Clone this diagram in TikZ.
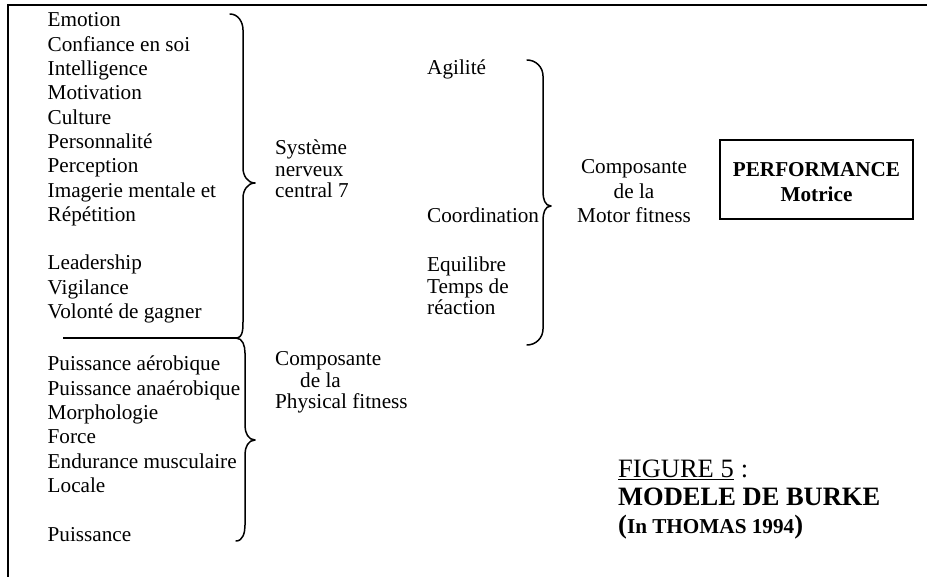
\documentclass[tikz,border=0pt]{standalone}
\usepackage{fontspec}
\setmainfont{Liberation Serif}
\begin{document}
\begin{tikzpicture}[x=1pt,y=1pt,
  txt/.style={inner sep=0pt,anchor=base west,font=\fontsize{21.2}{24.3}\selectfont},
  ctxt/.style={inner sep=0pt,anchor=base,font=\fontsize{21.2}{24.3}\selectfont},
  boldtxt/.style={inner sep=0pt,anchor=base,font=\fontsize{21.2}{24.3}\selectfont\bfseries},
  captxt/.style={inner sep=0pt,anchor=base west,font=\fontsize{26.5}{28}\selectfont},
  brc/.style={line width=1.5pt,line cap=round,line join=round},
  frame/.style={line width=2pt},
  perfbox/.style={draw,line width=2pt,minimum width=193pt,minimum height=79pt,inner sep=0pt}]
\useasboundingbox (0,0) rectangle (927,-577);

% outer frame (top and left edges)
\draw[frame] (927,-5.5) -- (7.5,-5.5) -- (7.5,-577);

% psychological factors
\foreach \y/\t [count=\i] in {27/Emotion, 51.3/Confiance en soi, 75.6/Intelligence,
  99.9/Motivation, 124.2/Culture, 148.5/Personnalité, 172.8/Perception,
  197.1/Imagerie mentale et, 221.4/Répétition, 270/Leadership,
  294.3/Vigilance, 318.6/Volonté de gagner}
  \node[txt] (psy\i) at (47.5,-\y) {\t};

% physical factors
\foreach \y/\t [count=\i] in {371/Puissance aérobique, 395.3/Puissance anaérobique,
  419.6/Morphologie, 443.9/Force, 468.2/Endurance musculaire, 492.5/Locale,
  541.1/Puissance}
  \node[txt] (phy\i) at (47.5,-\y) {\t};

% separating rule between the two groups
\coordinate (sepL) at (63,-338);
\coordinate (sepR) at (236,-338);
\draw[frame] (sepL) -- (sepR);

% braces
\draw[brc] (230,-14) to[out=0,in=90] (243,-30) -- (243,-168)
  to[out=-90,in=180] (255,-183) to[out=180,in=90] (243,-198)
  -- (243,-321) to[out=-90,in=0] (sepR);
\draw[brc] (sepR) to[out=0,in=90] (245,-353) -- (245,-426)
  to[out=-90,in=180] (255,-440) to[out=180,in=90] (245,-454)
  -- (245,-525) to[out=-90,in=0] (236,-541);
\draw[brc] (527,-60) to[out=0,in=90] (543,-76) -- (543,-192)
  to[out=-90,in=180] (551,-206) to[out=180,in=90] (543,-220)
  -- (543,-329) to[out=-90,in=0] (527,-345);

% central nervous system
\node[txt] (snc1) at (275,-155) {Système};
\node[txt] (snc2) at (275,-176.5) {nerveux};
\node[txt] (snc3) at (275,-198) {central 7};

% physical fitness component
\node[txt] (pf1) at (275,-366) {Composante};
\node[txt] (pf2) at (300,-387.5) {de la};
\node[txt] (pf3) at (275,-409) {Physical fitness};

% motor abilities
\node[txt] (mot1) at (427,-75) {Agilité};
\node[txt] (mot2) at (427,-223) {Coordination};
\node[txt] (mot3) at (427,-272) {Equilibre};
\node[txt] (mot4) at (427,-293.5) {Temps de};
\node[txt] (mot5) at (427,-315) {réaction};

% motor fitness component
\node[ctxt] (mf1) at (634,-174) {Composante};
\node[ctxt] (mf2) at (634,-198.5) {de la};
\node[ctxt] (mf3) at (634,-223) {Motor fitness};

% performance box
\node[perfbox] (perf) at (816.5,-179.5) {};
\node[boldtxt] (perf1) at (816.5,-177) {PERFORMANCE};
\node[boldtxt] (perf2) at (816.5,-202) {Motrice};

% caption
\node[captxt] (fig) at (618,-477) {FIGURE 5};
\node[captxt] (figc) at (fig.base east) {\ :};
\draw[line width=1.4pt] ([yshift=-2.6pt]fig.base west) -- ([yshift=-2.6pt]fig.base east);
\node[captxt,font=\fontsize{26.5}{28}\selectfont\bfseries] (burke) at (618,-505) {MODELE DE BURKE};
\node[captxt,font=\fontsize{21.2}{24}\selectfont\bfseries] (thomas) at (618,-533)
  {{\fontsize{26.5}{28}\selectfont(}In THOMAS 1994{\fontsize{26.5}{28}\selectfont)}};
\end{tikzpicture}
\end{document}
